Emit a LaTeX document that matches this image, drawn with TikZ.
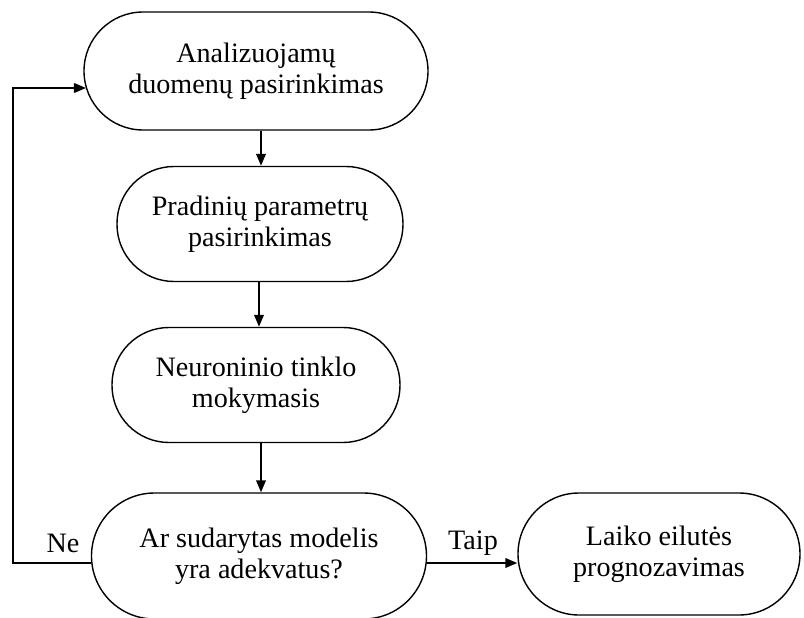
\documentclass[tikz,border=0pt]{standalone}
\usepackage{fontspec}
\setmainfont{Liberation Serif}
\usetikzlibrary{arrows.meta}
\begin{document}
\begin{tikzpicture}[x=0.025cm,y=-0.025cm,
        stage/.style={draw,line width=1pt,rectangle,align=center,font=\fontsize{20}{22}\selectfont,inner sep=0pt},
        flow/.style={line width=1.3pt,-{Triangle[length=3mm,width=2.4mm]}},
        tag/.style={font=\fontsize{20}{22}\selectfont,inner sep=0pt}]
        \useasboundingbox (0,0) rectangle (804,618);
        %% Stages
        \node[stage,minimum width=344*0.025cm,minimum height=118*0.025cm,rounded corners=59*0.025cm] (b1) at (256,71) {Analizuojamų\\duomenų pasirinkimas};
        \node[stage,minimum width=286*0.025cm,minimum height=115*0.025cm,rounded corners=57*0.025cm] (b2) at (260,224) {Pradinių parametrų\\pasirinkimas};
        \node[stage,minimum width=288*0.025cm,minimum height=115*0.025cm,rounded corners=57*0.025cm] (b3) at (256,385) {Neuroninio tinklo\\mokymasis};
        \node[stage,minimum width=335*0.025cm,minimum height=126*0.025cm,rounded corners=63*0.025cm] (b4) at (259,556) {Ar sudarytas modelis\\yra adekvatus?};
        \node[stage,minimum width=282*0.025cm,minimum height=122*0.025cm,rounded corners=61*0.025cm] (b5) at (659,554) {Laiko eilutės\\prognozavimas};
        %% Arrows down
        \draw[flow] (b1.south -| 261,0) -- (b2.north -| 261,0);
        \draw[flow] (b2.south -| 259,0) -- (b3.north -| 259,0);
        \draw[flow] (b3.south -| 261,0) -- (b4.north -| 261,0);
        %% Decision
        \coordinate (loop) at (13,563);
        \coordinate (back) at (86,88);
        \draw[flow] ([yshift=-7*0.025cm]b4.west) -- (loop) |- (back);
        \draw[flow] ([yshift=-7*0.025cm]b4.east) -- ([yshift=-9*0.025cm]b5.west);
        \node[tag] (no) at (63,543) {Ne};
        \node[tag] (yes) at (473,543) {Taip};
\end{tikzpicture}
\end{document}
